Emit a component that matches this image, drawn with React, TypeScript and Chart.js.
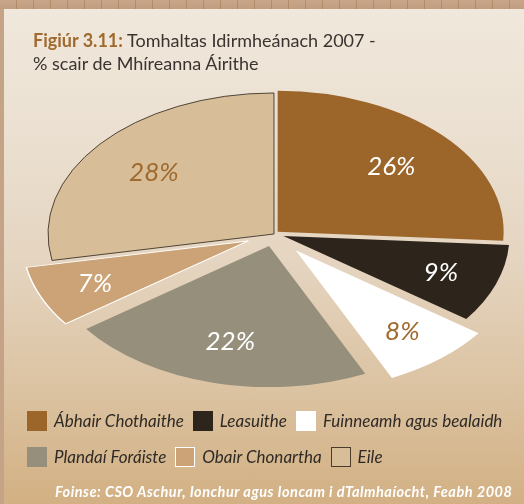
import React, { useEffect, useRef } from 'react';
import { Chart, registerables } from 'chart.js';

Chart.register(...registerables);

const categories = [
  'Ábhair Chothaithe',
  'Leasuithe',
  'Fuinneamh agus bealaidh',
  'Plandaí Foráiste',
  'Obair Chonartha',
  'Eile',
];
const shares = [26, 9, 8, 22, 7, 28];
const sliceColors = ['#9C6529', '#2D251B', '#FFFFFF', '#958F7B', '#CBA376', '#D7BD98'];
const sliceBorderColors = ['#9C6529', '#2D251B', '#FFFFFF', '#958F7B', '#FFFFFF', '#2D251B'];
const sliceBorderWidths = [0, 0, 0, 0, 1.5, 1];
const legendBorders = ['none', 'none', 'none', 'none', '1.5px solid #FFFFFF', '1.5px solid #4A3B2A'];
const labelColors = ['#FFFFFF', '#FFFFFF', '#A06A2E', '#FFFFFF', '#FFFFFF', '#A06A2E'];
const explode = [5, 10, 34, 20, 28, 0];

const SQUASH = 0.624;
const RADIUS = 226;
const FONT = 'Lato, "Open Sans", sans-serif';

const tiltPlugin = {
  id: 'tilt',
  afterUpdate(chart: any) {
    const meta = chart.getDatasetMeta(0);
    meta.data.forEach((arc: any, i: number) => {
      if (arc.__wrapped) return;
      const orig = arc.draw;
      arc.draw = function (ctx: CanvasRenderingContext2D, area: any) {
        const mid = (this.startAngle + this.endAngle) / 2;
        const d = explode[i] || 0;
        ctx.save();
        ctx.translate(Math.cos(mid) * d, Math.sin(mid) * d);
        orig.call(this, ctx, area);
        ctx.restore();
      };
      arc.__wrapped = true;
    });
  },
  beforeDatasetsDraw(chart: any) {
    const arc = chart.getDatasetMeta(0).data[0];
    const ctx = chart.ctx;
    ctx.save();
    ctx.translate(arc.x, arc.y);
    ctx.scale(1, SQUASH);
    ctx.translate(-arc.x, -arc.y);
  },
  afterDatasetsDraw(chart: any) {
    const ctx = chart.ctx;
    ctx.restore();
    const meta = chart.getDatasetMeta(0);
    ctx.save();
    ctx.font = `italic 26px ${FONT}`;
    ctx.textAlign = 'center';
    ctx.textBaseline = 'middle';
    meta.data.forEach((arc: any, i: number) => {
      const mid = (arc.startAngle + arc.endAngle) / 2;
      const frac = shares[i] < 10 ? 0.74 : 0.69;
      const r = (explode[i] || 0) + frac * arc.outerRadius;
      const x = arc.x + Math.cos(mid) * r;
      const y = arc.y + Math.sin(mid) * r * SQUASH;
      ctx.fillStyle = labelColors[i];
      ctx.fillText(`${shares[i]}%`, x, y + 1);
    });
    ctx.restore();
  },
};

export default function App() {
  const canvasRef = useRef<HTMLCanvasElement>(null);

  useEffect(() => {
    if (!canvasRef.current) return;
    const chart = new Chart(canvasRef.current, {
      type: 'pie',
      data: {
        labels: categories,
        datasets: [
          {
            data: shares,
            backgroundColor: sliceColors,
            borderColor: sliceBorderColors,
            borderWidth: sliceBorderWidths,
            radius: RADIUS,
            clip: false as any,
          } as any,
        ],
      },
      options: {
        responsive: false,
        animation: false,
        events: [],
        layout: { padding: { left: 24, right: 0, top: 0, bottom: 36 } },
        plugins: {
          legend: { display: false },
          tooltip: { enabled: false },
          title: { display: false },
        },
      } as any,
      plugins: [tiltPlugin],
    });
    return () => chart.destroy();
  }, []);

  const legendItem = (i: number) => (
    <div key={i} style={{ display: 'flex', alignItems: 'center', gap: 7 }}>
      <div
        style={{
          width: 20,
          height: 20,
          boxSizing: 'border-box',
          background: sliceColors[i],
          border: legendBorders[i],
        }}
      />
      <span>{categories[i]}</span>
    </div>
  );

  return (
    <div
      style={{
        position: 'absolute',
        left: 0,
        top: 0,
        width: 524,
        height: 504,
        overflow: 'hidden',
        fontFamily: FONT,
        background: '#C5A386',
      }}
    >
      <div
        style={{
          position: 'absolute',
          left: 0,
          top: 0,
          width: 524,
          height: 9,
          background:
            'repeating-linear-gradient(90deg, rgba(0,0,0,0) 0px, rgba(0,0,0,0) 16px, rgba(165,120,80,0.55) 16px, rgba(165,120,80,0.55) 17px), linear-gradient(#C8A68A, #C29E80)',
        }}
      />
      <div
        style={{
          position: 'absolute',
          left: 4,
          top: 9,
          width: 520,
          height: 495,
          background:
            'linear-gradient(#F0E8DC 0%, #EBE0D1 25%, #E5D5C1 50%, #DCC4A4 75%, #D2B083 100%)',
        }}
      />
      <canvas
        ref={canvasRef}
        width={524}
        height={504}
        style={{ position: 'absolute', left: 0, top: 0, display: 'block' }}
      />
      <div
        style={{
          position: 'absolute',
          left: 33,
          top: 29,
          fontSize: 18,
          lineHeight: '23px',
          color: '#3A3330',
          whiteSpace: 'nowrap',
        }}
      >
        <span style={{ color: '#A06A2E', fontWeight: 700 }}>Figiúr 3.11:</span> Tomhaltas Idirmheánach 2007 -
        <br />% scair de Mhíreanna Áirithe
      </div>
      <div
        style={{
          position: 'absolute',
          left: 27,
          top: 410,
          display: 'flex',
          flexDirection: 'column',
          gap: 15,
          fontSize: 17,
          fontStyle: 'italic',
          color: '#2F2A25',
          whiteSpace: 'nowrap',
        }}
      >
        <div style={{ display: 'flex', gap: 9, height: 21, alignItems: 'center' }}>
          {[0, 1, 2].map(legendItem)}
        </div>
        <div style={{ display: 'flex', gap: 9, height: 21, alignItems: 'center' }}>
          {[3, 4, 5].map(legendItem)}
        </div>
      </div>
      <div
        style={{
          position: 'absolute',
          left: 55,
          top: 483,
          fontSize: 14.5,
          letterSpacing: 0.5,
          fontStyle: 'italic',
          fontWeight: 700,
          color: '#FFFFFF',
          whiteSpace: 'nowrap',
        }}
      >
        Foinse: CSO Aschur, Ionchur agus Ioncam i dTalmhaíocht, Feabh 2008
      </div>
    </div>
  );
}
